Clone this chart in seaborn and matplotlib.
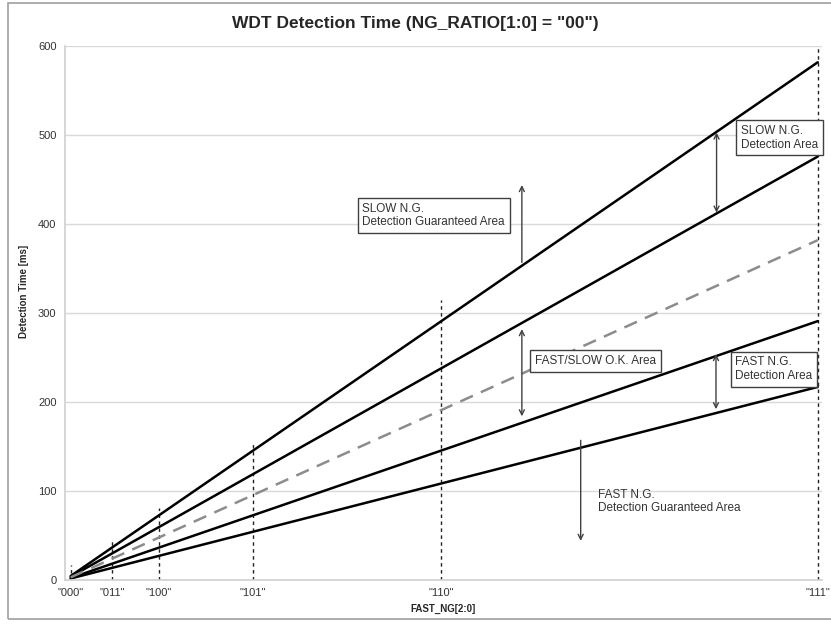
import numpy as np
import pandas as pd
import matplotlib.pyplot as plt
import matplotlib.patches as patches
import seaborn as sns

# FAST_NG[2:0] settings and their position on the time axis
settings = ['"000"', '"011"', '"100"', '"101"', '"110"', '"111"']
fast_ng = [1, 8, 16, 32, 64, 128]
# height of the dotted marker line at each setting (ms)
marker_top = [17, 45, 81, 155, 315, 600]

# detection-time lines, read at "000" and "111"
line_names = ["slow_max", "slow_min", "nominal", "fast_max", "fast_min"]
line_start = [4.5, 3.7, 3.0, 2.3, 1.7]
line_end = [582, 476, 382, 291, 217]


def build_frame():
    rows = []
    for name, y0, y1 in zip(line_names, line_start, line_end):
        rows.append({"line": name, "x": fast_ng[0], "y": y0})
        rows.append({"line": name, "x": fast_ng[-1], "y": y1})
    return pd.DataFrame(rows)


def plot_chart():
    sns.set_theme(style="white")
    plt.rcParams['font.family'] = ['Liberation Sans', 'DejaVu Sans']
    fig = plt.figure(figsize=(8.31, 6.25), dpi=100)
    ax = fig.add_axes([0.078, 0.072, 0.911, 0.854])

    df = build_frame()
    solid = df[df.line != "nominal"]
    sns.lineplot(data=solid, x="x", y="y", units="line", estimator=None,
                 color="black", linewidth=1.8, ax=ax, legend=False)
    sns.lineplot(data=df[df.line == "nominal"], x="x", y="y", color="#8c8c8c",
                 linewidth=1.8, ax=ax, legend=False)
    ax.lines[-1].set_dashes((5.5, 3.5))

    # dotted markers at each setting
    for x, top in zip(fast_ng, marker_top):
        ax.plot([x, x], [0, top], color="#222222", lw=1, ls=(0, (2.5, 2.5)), zorder=1)

    ax.set_xlim(0, 128.7)
    ax.set_ylim(0, 600)
    ax.set_yticks(range(0, 601, 100))
    ax.set_xticks(fast_ng)
    ax.set_xticklabels(settings)
    ax.tick_params(axis="both", labelsize=8, colors="#333333", length=0, pad=6)
    ax.yaxis.grid(True, color="#d9d9d9", lw=1)
    for s in ["top", "right"]:
        ax.spines[s].set_visible(False)
    for s in ["left", "bottom"]:
        ax.spines[s].set_color("#d0d0d0")
        ax.spines[s].set_linewidth(1.2)

    ax.set_xlabel("FAST_NG[2:0]", fontsize=7, fontweight="bold", labelpad=4)
    ax.set_ylabel("Detection Time [ms]", fontsize=7, fontweight="bold")
    ax.yaxis.set_label_coords(-0.047, 0.54)
    fig.suptitle('WDT Detection Time (NG_RATIO[1:0] = "00")', fontsize=12.5,
                 fontweight="bold", y=0.975)

    box = dict(boxstyle="square,pad=0.4", fc="white", ec="#404040", lw=1)
    txt = dict(fontsize=8.5, color="#333333", va="center", ha="left", linespacing=1.15)
    arr2 = dict(arrowstyle="<->", color="#404040", lw=1, mutation_scale=9, shrinkA=0, shrinkB=0)
    arr1 = dict(arrowstyle="->", color="#404040", lw=1, mutation_scale=9, shrinkA=0, shrinkB=0)

    ax.text(114.9, 497, "SLOW N.G.\nDetection Area", bbox=box, **txt)
    ax.annotate("", xy=(110.8, 503), xytext=(110.8, 413), arrowprops=arr2)

    ax.text(50.6, 410, "SLOW N.G.\nDetection Guaranteed Area", bbox=box, **txt)
    ax.annotate("", xy=(77.7, 444), xytext=(77.7, 357), arrowprops=arr1)

    ax.text(79.9, 246, "FAST/SLOW O.K. Area", bbox=box, **txt)
    ax.annotate("", xy=(77.7, 282), xytext=(77.7, 184), arrowprops=arr2)

    ax.text(114.0, 237, "FAST N.G.\nDetection Area", bbox=box, **txt)
    ax.annotate("", xy=(110.7, 254), xytext=(110.7, 192), arrowprops=arr2)

    ax.text(90.6, 88, "FAST N.G.\nDetection Guaranteed Area", **txt)
    ax.annotate("", xy=(87.7, 44), xytext=(87.7, 157), arrowprops=arr1)

    # outer frame
    fig.patches.append(patches.Rectangle((0.01, 0.01), 0.995, 0.985, transform=fig.transFigure,
                                         fill=False, ec="#a0a0a0", lw=1.2))
    fig.savefig("out.png", dpi=100)


def main():
    plot_chart()


if __name__ == "__main__":
    main()
